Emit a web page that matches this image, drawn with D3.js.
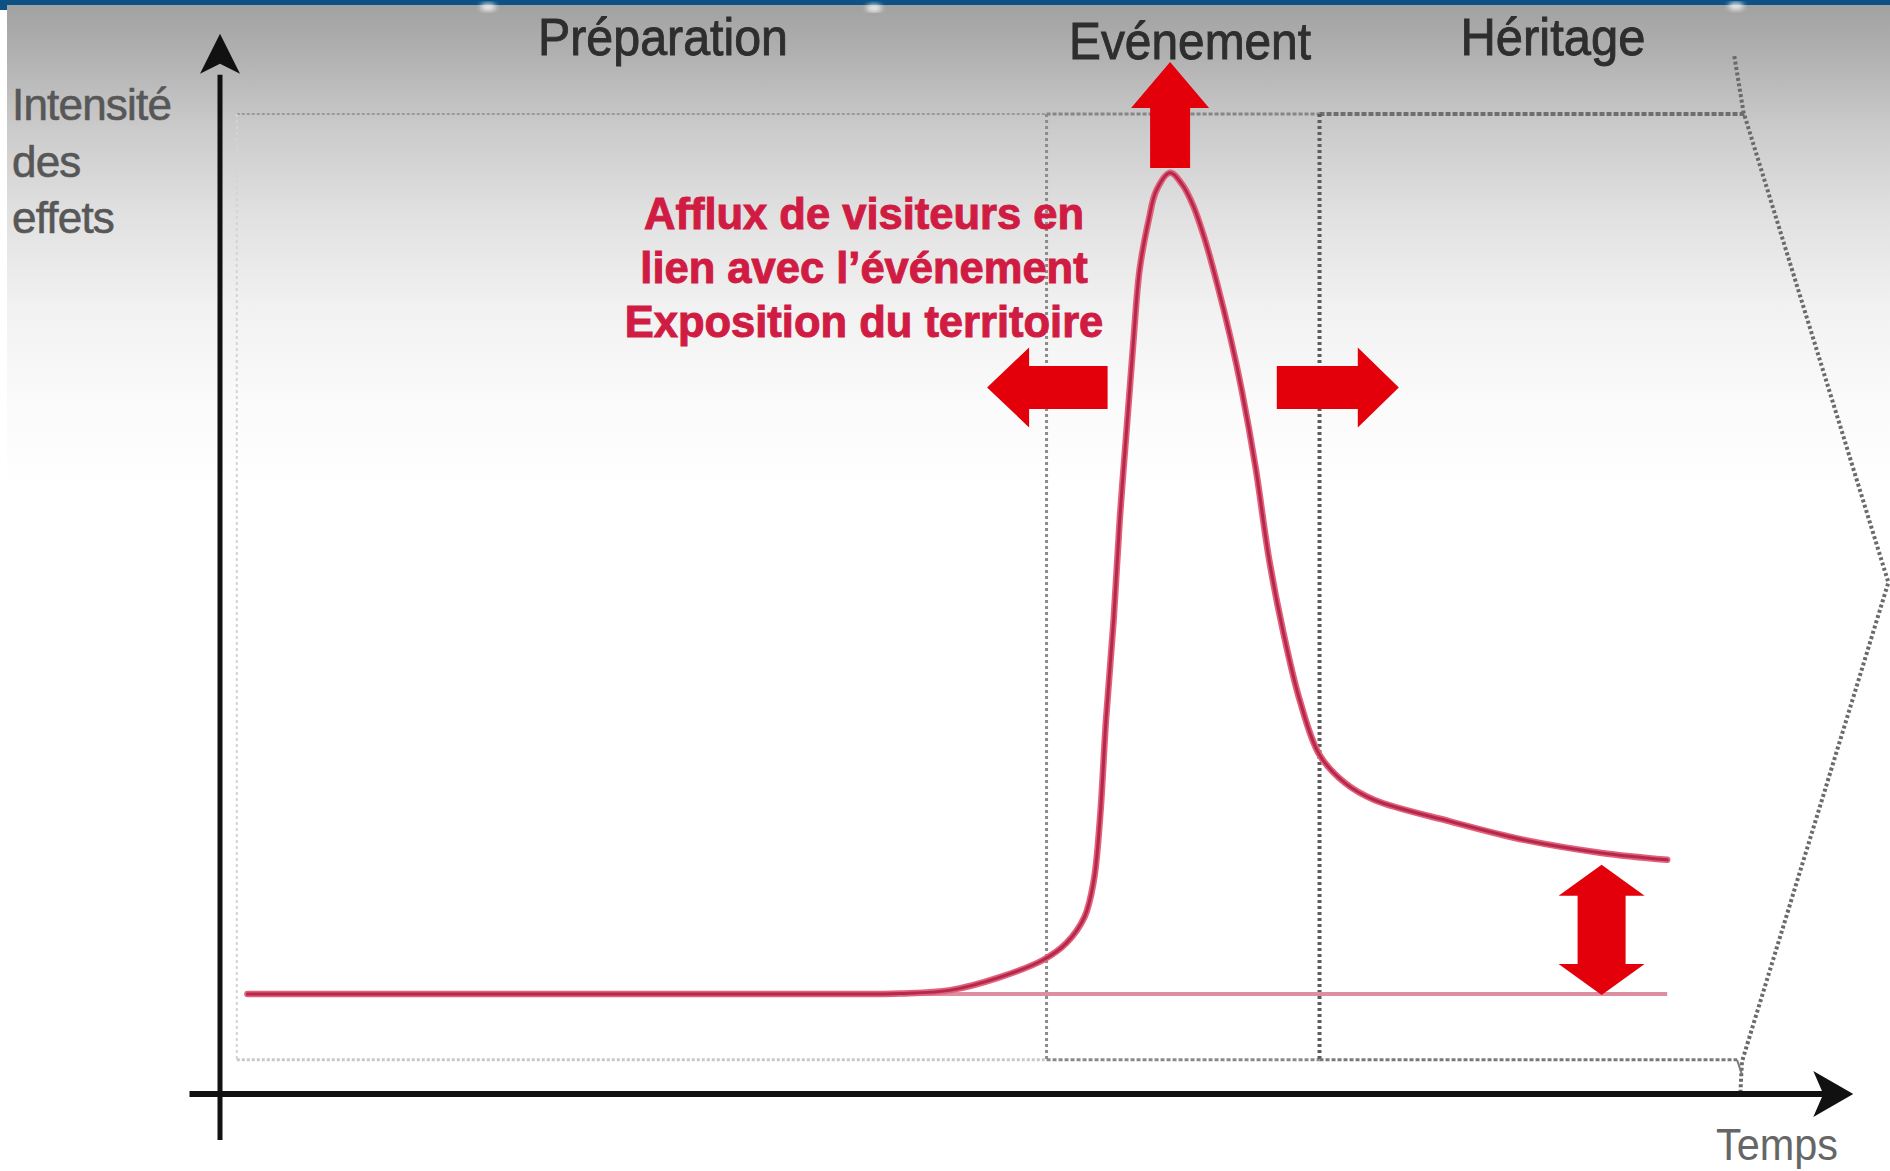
<!DOCTYPE html>
<html>
<head>
<meta charset="utf-8">
<script src="https://cdn.jsdelivr.net/npm/d3@7"></script>
<style>
  html, body { margin: 0; padding: 0; background: #ffffff; }
  svg { display: block; }
</style>
</head>
<body>
<svg id="chart" width="1890" height="1171"></svg>
<script>
// Phases of an event's life cycle (start of each phase, in time units)
const phaseNames = ["Préparation", "Evénement", "Héritage"];
const phaseStarts = [1.1, 54.2, 72.1];
const phaseEnd = 100;

// Intensity of the effects over time
const curveTime = [1.8, 15, 30, 40, 44.6, 47.9, 51.1, 54.0, 55.5, 56.7, 57.3, 57.7, 58.1, 58.6, 59.0, 59.5, 59.9,
  60.3, 60.9, 61.4, 62.3, 63.1, 63.8, 64.6, 65.4, 66.3, 67.0, 67.9, 68.8, 69.7, 70.8, 72.1, 73.8,
  75.7, 80.7, 85.6, 90.6, 94.9];
const curveIntensity = [10.2, 10.2, 10.2, 10.2, 10.25, 10.6, 11.9, 13.7, 15.4, 18.1, 21.8, 28.0, 38.2, 48.4, 58.6, 68.8, 76.9,
  84.1, 89.2, 92.2, 94.0, 92.8, 90.7, 87.1, 82.6, 76.9, 71.8, 64.0, 54.5, 47.3, 40.2, 34.6, 31.7,
  30.0, 27.8, 25.9, 24.6, 23.9];

// Level of effects before the event (reference line)
const baselineLevel = 10.2;
const baselineSpan = [1.8, 94.9];

// Arrows: tail and tip (time, intensity), double-headed or not
const arrowTailTime = [62.3, 58.2, 69.3, 90.6];
const arrowTailValue = [94.5, 72.1, 72.1, 10.1];
const arrowTipTime = [62.3, 50.3, 77.3, 90.6];
const arrowTipValue = [105.3, 72.1, 72.1, 23.4];
const arrowDouble = [false, false, false, true];

// Texts
const annotationLines = ["Afflux de visiteurs en", "lien avec l’événement", "Exposition du territoire"];
const yAxisLabel = ["Intensité", "des", "effets"];
const xAxisLabel = "Temps";

const W = 1890, H = 1171;
const svg = d3.select("#chart");
const FONT = "'Liberation Sans', Arial, Helvetica, sans-serif";

const x = d3.scaleLinear().domain([0, 100]).range([220, 1745]);
const y = d3.scaleLinear().domain([0, 100]).range([1094, 114]);

// ---- background: grey-to-white vertical gradient, blue band on top
const defs = svg.append("defs");
const grad = defs.append("linearGradient").attr("id", "bg")
  .attr("gradientUnits", "userSpaceOnUse").attr("x1", 0).attr("y1", 0).attr("x2", 0).attr("y2", H);
[[0, "#a0a0a0"], [0.05, "#b2b2b2"], [0.11, "#cbcbcb"], [0.18, "#e0e0e0"], [0.26, "#f1f1f1"],
 [0.34, "#fafafa"], [0.42, "#ffffff"], [1, "#ffffff"]]
  .forEach(([o, c]) => grad.append("stop").attr("offset", o).attr("stop-color", c));
const soft = defs.append("filter").attr("id", "soft");
soft.append("feGaussianBlur").attr("stdDeviation", 2.5);

svg.append("rect").attr("width", W).attr("height", H).attr("fill", "url(#bg)");
svg.append("rect").attr("x", 0).attr("y", 0).attr("width", 7).attr("height", H).attr("fill", "#ffffff");
svg.append("rect").attr("x", 0).attr("y", 0).attr("width", W).attr("height", 5).attr("fill", "#0c5285");
svg.append("rect").attr("x", 0).attr("y", 0).attr("width", 7).attr("height", 10).attr("fill", "#0c5285");
// light specks under the top band
svg.append("g").attr("filter", "url(#soft)").attr("opacity", 0.8).selectAll("ellipse")
  .data([[488, 7], [874, 8], [1736, 6]]).join("ellipse")
  .attr("cx", d => d[0]).attr("cy", d => d[1]).attr("rx", 8).attr("ry", 4).attr("fill", "#ffffff");

// ---- phase frames (dotted)
const g = svg.append("g");
const frameTop = y(100), frameBottom = y(3.5);
// outer frame, faint
g.append("line").attr("x1", x(phaseStarts[0])).attr("x2", x(phaseStarts[1]))
  .attr("y1", frameTop).attr("y2", frameTop)
  .attr("stroke", "#9a9a9a").attr("stroke-width", 2).attr("stroke-dasharray", "3,2");
g.append("line").attr("x1", x(phaseStarts[0])).attr("x2", x(phaseStarts[0]))
  .attr("y1", frameTop).attr("y2", frameBottom)
  .attr("stroke", "#d4d4d4").attr("stroke-width", 2).attr("stroke-dasharray", "3,3");
g.append("line").attr("x1", x(phaseStarts[0])).attr("x2", x(phaseStarts[1]))
  .attr("y1", frameBottom).attr("y2", frameBottom)
  .attr("stroke", "#c8c8c8").attr("stroke-width", 3).attr("stroke-dasharray", "3,2");
// event frame
g.append("line").attr("x1", x(phaseStarts[1])).attr("x2", x(phaseStarts[2]))
  .attr("y1", frameTop).attr("y2", frameTop)
  .attr("stroke", "#858585").attr("stroke-width", 3).attr("stroke-dasharray", "4,2");
g.append("line").attr("x1", x(phaseStarts[1])).attr("x2", x(phaseStarts[1]))
  .attr("y1", frameTop).attr("y2", frameBottom)
  .attr("stroke", "#8c8c8c").attr("stroke-width", 3).attr("stroke-dasharray", "3,3");
g.append("line").attr("x1", x(phaseStarts[1])).attr("x2", x(phaseStarts[2]))
  .attr("y1", frameBottom).attr("y2", frameBottom)
  .attr("stroke", "#8a8a8a").attr("stroke-width", 3).attr("stroke-dasharray", "4,2");
// legacy frame, darker
g.append("line").attr("x1", x(phaseStarts[2])).attr("x2", x(phaseEnd))
  .attr("y1", frameTop).attr("y2", frameTop)
  .attr("stroke", "#6e6e6e").attr("stroke-width", 4).attr("stroke-dasharray", "5,2");
g.append("line").attr("x1", x(phaseStarts[2])).attr("x2", x(phaseStarts[2]))
  .attr("y1", frameTop).attr("y2", frameBottom)
  .attr("stroke", "#5c5c5c").attr("stroke-width", 4).attr("stroke-dasharray", "3,3");
g.append("line").attr("x1", x(phaseStarts[2])).attr("x2", x(phaseEnd) - 8)
  .attr("y1", frameBottom).attr("y2", frameBottom)
  .attr("stroke", "#7a7a7a").attr("stroke-width", 3).attr("stroke-dasharray", "4,2");
// chevron closing the legacy phase
const chev = [[phaseEnd - 0.7, 105.9], [phaseEnd - 0.1, 100.2], [109.4, 52.2], [phaseEnd - 0.2, 3.3], [phaseEnd - 0.3, 0.2]];
g.append("path")
  .attr("d", d3.line().x(d => x(d[0])).y(d => y(d[1]))(chev))
  .attr("fill", "none").attr("stroke", "#6a6a6a").attr("stroke-width", 4).attr("stroke-dasharray", "3,2.5");
g.append("line").attr("x1", x(phaseEnd) - 8).attr("x2", x(phaseEnd - 0.2))
  .attr("y1", frameBottom).attr("y2", y(2.0))
  .attr("stroke", "#7a7a7a").attr("stroke-width", 2);

// ---- axes
const axis = svg.append("g");
axis.append("line").attr("x1", x(0)).attr("x2", x(0)).attr("y1", y(-4.7)).attr("y2", y(104))
  .attr("stroke", "#111").attr("stroke-width", 5);
axis.append("line").attr("x1", x(-2)).attr("x2", x(105.5)).attr("y1", y(0)).attr("y2", y(0))
  .attr("stroke", "#111").attr("stroke-width", 6);
// arrowheads of the axes
const ay = y(108.2), ax0 = x(0);
axis.append("path")
  .attr("d", `M${ax0},${ay} L${ax0 + 20},${ay + 40} L${ax0},${ay + 30} L${ax0 - 20},${ay + 40} Z`)
  .attr("fill", "#111");
const bx = x(107.1), by0 = y(0);
axis.append("path")
  .attr("d", `M${bx},${by0} L${bx - 40},${by0 - 23} L${bx - 30},${by0} L${bx - 40},${by0 + 23} Z`)
  .attr("fill", "#111");

// ---- reference line and curve
svg.append("line")
  .attr("x1", x(baselineSpan[0])).attr("x2", x(baselineSpan[1]))
  .attr("y1", y(baselineLevel)).attr("y2", y(baselineLevel))
  .attr("stroke", "#dc8fa2").attr("stroke-width", 4);

const curveData = curveTime.map((t, i) => [t, curveIntensity[i]]);
const line = d3.line().x(d => x(d[0])).y(d => y(d[1])).curve(d3.curveCatmullRom.alpha(0.5));
svg.append("path").datum(curveData).attr("d", line)
  .attr("fill", "none").attr("stroke", "#e2607a").attr("stroke-width", 6.5)
  .attr("stroke-linejoin", "round").attr("stroke-linecap", "round");
svg.append("path").datum(curveData).attr("d", line)
  .attr("fill", "none").attr("stroke", "#b5284b").attr("stroke-width", 3)
  .attr("stroke-linejoin", "round").attr("stroke-linecap", "round");

// ---- red arrows
function arrowPath(x1, y1, x2, y2, sw, hw, hl, both) {
  const dx = x2 - x1, dy = y2 - y1, L = Math.hypot(dx, dy);
  const ux = dx / L, uy = dy / L, nx = -uy, ny = ux;
  const P = (a, b) => [x1 + ux * a + nx * b, y1 + uy * a + ny * b];
  const pts = both
    ? [P(0, 0), P(hl, -hw), P(hl, -sw), P(L - hl, -sw), P(L - hl, -hw), P(L, 0), P(L - hl, hw), P(L - hl, sw), P(hl, sw), P(hl, hw)]
    : [P(0, -sw), P(L - hl, -sw), P(L - hl, -hw), P(L, 0), P(L - hl, hw), P(L - hl, sw), P(0, sw)];
  return "M" + pts.map(p => p.map(v => v.toFixed(1)).join(",")).join("L") + "Z";
}
const arrowSize = [[20, 39, 46], [21.5, 40, 42], [21.5, 40, 41], [24, 43, 31]];
svg.append("g").selectAll("path").data(arrowTailTime).join("path")
  .attr("d", (d, i) => arrowPath(x(arrowTailTime[i]), y(arrowTailValue[i]), x(arrowTipTime[i]), y(arrowTipValue[i]),
    arrowSize[i][0], arrowSize[i][1], arrowSize[i][2], arrowDouble[i]))
  .attr("fill", "#e3000b");

// ---- texts
const headerX = [663, 1190, 1553];
const headerY = [55, 59, 55];
const headerW = [250, 242, 185];
svg.append("g").selectAll("text").data(phaseNames).join("text")
  .attr("x", (d, i) => headerX[i]).attr("y", (d, i) => headerY[i])
  .attr("text-anchor", "middle")
  .attr("textLength", (d, i) => headerW[i]).attr("lengthAdjust", "spacingAndGlyphs")
  .attr("font-family", FONT).attr("font-size", 52).attr("fill", "#2e2e2e")
  .attr("stroke", "#2e2e2e").attr("stroke-width", 0.9)
  .text(d => d);

svg.append("g").selectAll("text").data(yAxisLabel).join("text")
  .attr("x", 12).attr("y", (d, i) => 120 + i * 56.5)
  .attr("font-family", FONT).attr("font-size", 44).attr("fill", "#575757")
  .attr("stroke", "#575757").attr("stroke-width", 0.6)
  .attr("letter-spacing", -0.8)
  .text(d => d);

svg.append("text").attr("x", 1716).attr("y", 1160)
  .attr("textLength", 122).attr("lengthAdjust", "spacingAndGlyphs")
  .attr("font-family", FONT).attr("font-size", 44).attr("fill", "#666666")
  .text(xAxisLabel);

svg.append("g").selectAll("text").data(annotationLines).join("text")
  .attr("x", 864).attr("y", (d, i) => 229 + i * 54)
  .attr("text-anchor", "middle")
  .attr("font-family", FONT).attr("font-weight", "bold").attr("font-size", 43.5).attr("fill", "#d01c42")
  .attr("stroke", "#d01c42").attr("stroke-width", 1)
  .text(d => d);
</script>
</body>
</html>
